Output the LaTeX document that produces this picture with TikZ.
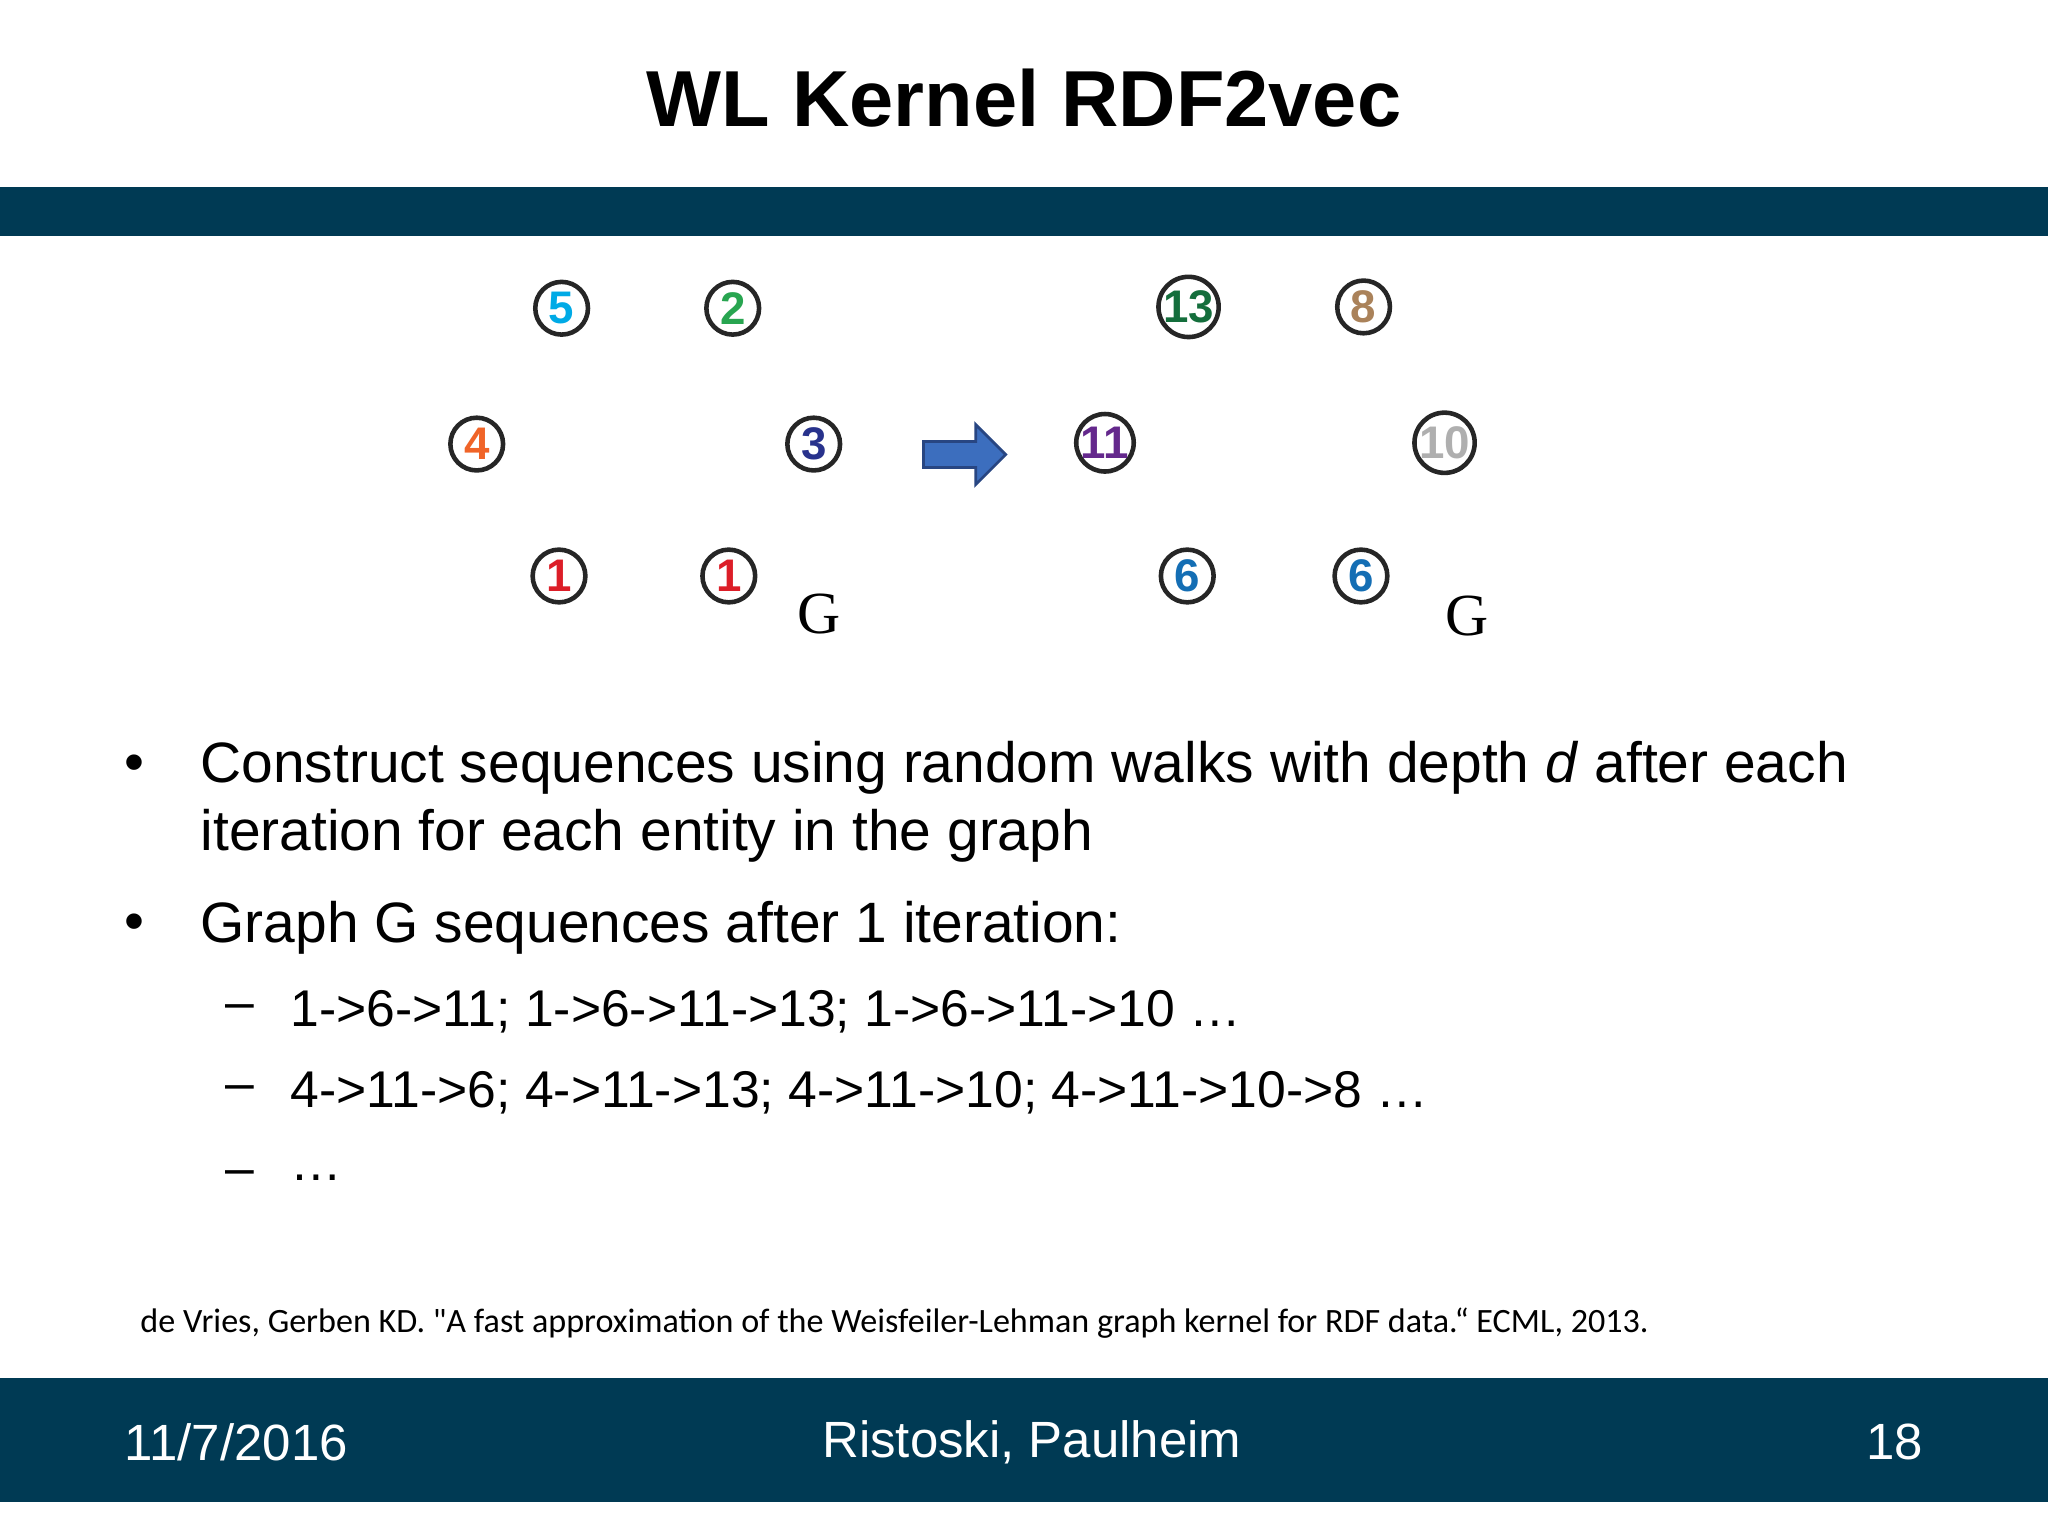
\documentclass[tikz,border=0pt]{standalone}
\usepackage{fontspec}
\setmainfont{Liberation Sans}
\newfontfamily\carl{Carlito}
\newfontfamily\serifG{Liberation Serif}
\usetikzlibrary{backgrounds}
\definecolor{band}{RGB}{0,58,84}
\definecolor{cA}{RGB}{0,170,230}\definecolor{cB}{RGB}{40,165,80}
\definecolor{cC}{RGB}{240,100,40}\definecolor{cD}{RGB}{40,50,140}
\definecolor{cE}{RGB}{220,30,40}\definecolor{cF}{RGB}{20,110,60}
\definecolor{cG}{RGB}{170,130,90}\definecolor{cH}{RGB}{100,40,140}
\definecolor{cI}{RGB}{175,175,175}\definecolor{cJ}{RGB}{20,110,180}
\definecolor{arrf}{RGB}{60,110,190}\definecolor{arrd}{RGB}{40,70,130}
\tikzset{gn/.style={circle,draw=black!85,line width=1.3pt,fill=white,minimum size=15pt,inner sep=0pt,font=\bfseries\fontsize{13}{13}\selectfont},
ge/.style={line width=1pt,black!80},
txt/.style={anchor=west,inner sep=0pt,font=\fontsize{16.2}{18}\selectfont},
sub/.style={anchor=west,inner sep=0pt,font=\fontsize{14.7}{16}\selectfont}}
\begin{document}
\begin{tikzpicture}[x=0.01306cm,y=-0.01306cm]
\useasboundingbox (0,0) rectangle (1568,1176);
\fill[white] (0,0) rectangle (1568,1176);
\node (title) at (784,75) {\bfseries\fontsize{22.6}{28}\selectfont WL Kernel RDF2vec};
\fill[band] (0,143) rectangle (1568,181);
\fill[band] (0,1055) rectangle (1568,1150);
% left graph
\node[gn,text=cA] (a5) at (430,236) {5};
\node[gn,text=cB] (a2) at (561,236) {2};
\node[gn,text=cC] (a4) at (365,340) {4};
\node[gn,text=cD] (a3) at (623,340) {3};
\node[gn,text=cE] (a1) at (428,441) {1};
\node[gn,text=cE] (b1) at (558,441) {1};
\begin{pgfonlayer}{background}
\draw[ge] (a5.center)--(a2.center) (a5.center)--(a4.center) (a5.center)--(a3.center) (a2.center)--(a3.center) (a4.center)--(a3.center) (a4.center)--(a1.center) (a4.center)--(b1.center);
\end{pgfonlayer}
\node (g1) at (627,470) {\serifG\fontsize{17}{17}\selectfont G};
% arrow
\coordinate (arrtip) at (770,348);
\draw[arrd,fill=arrf,line width=0.8pt] (707,338)--(747,338)--(747,325)--(arrtip)--(747,371)--(747,358)--(707,358)--cycle;
% right graph
\node[gn,text=cF] (r13) at (910,235) {13};
\node[gn,text=cG] (r8) at (1044,235) {8};
\node[gn,text=cH] (r11) at (846,339) {11};
\node[gn,text=cI] (r10) at (1106,339) {10};
\node[gn,text=cJ] (r6a) at (909,441) {6};
\node[gn,text=cJ] (r6b) at (1042,441) {6};
\begin{pgfonlayer}{background}
\draw[ge] (r13.center)--(r8.center) (r13.center)--(r11.center) (r13.center)--(r10.center) (r8.center)--(r10.center) (r11.center)--(r10.center) (r11.center)--(r6a.center) (r11.center)--(r6b.center);
\end{pgfonlayer}
\node (g2) at (1123,472) {\serifG\fontsize{17}{17}\selectfont G};
% bullets
\node[txt] (bu1) at (95,588) {•};
\node[txt] (t1) at (153,588) {Construct sequences using random walks with depth \textit{d} after each};
\node[txt] (t1b) at (153,640) {iteration for each entity in the graph};
\node[txt] (bu2) at (95,710) {•};
\node[txt] (t2) at (153,710) {Graph G sequences after 1 iteration:};
\node[sub] (d1) at (172,775) {–};
\node[sub] (s1) at (222,775) {1->6->11; 1->6->11->13; 1->6->11->10 …};
\node[sub] (d2) at (172,837) {–};
\node[sub] (s2) at (222,837) {4->11->6; 4->11->13; 4->11->10; 4->11->10->8 …};
\node[sub] (d3) at (172,902) {–};
\node[sub] (s3) at (222,902) {…};
\node[anchor=west,inner sep=0pt,font=\carl\fontsize{9.7}{11}\selectfont] (cite) at (107,1013) {de Vries, Gerben KD. "A fast approximation of the Weisfeiler-Lehman graph kernel for RDF data.“ ECML, 2013.};
% footer
\node[anchor=west,inner sep=0pt,text=white,font=\fontsize{14.5}{16}\selectfont] (date) at (95,1104) {11/7/2016};
\node[text=white,font=\fontsize{14.5}{16}\selectfont] (auth) at (790,1104) {Ristoski, Paulheim};
\node[text=white,font=\fontsize{14.5}{16}\selectfont,anchor=east,inner sep=0pt] (pg) at (1473,1104) {18};
\end{tikzpicture}
\end{document}
